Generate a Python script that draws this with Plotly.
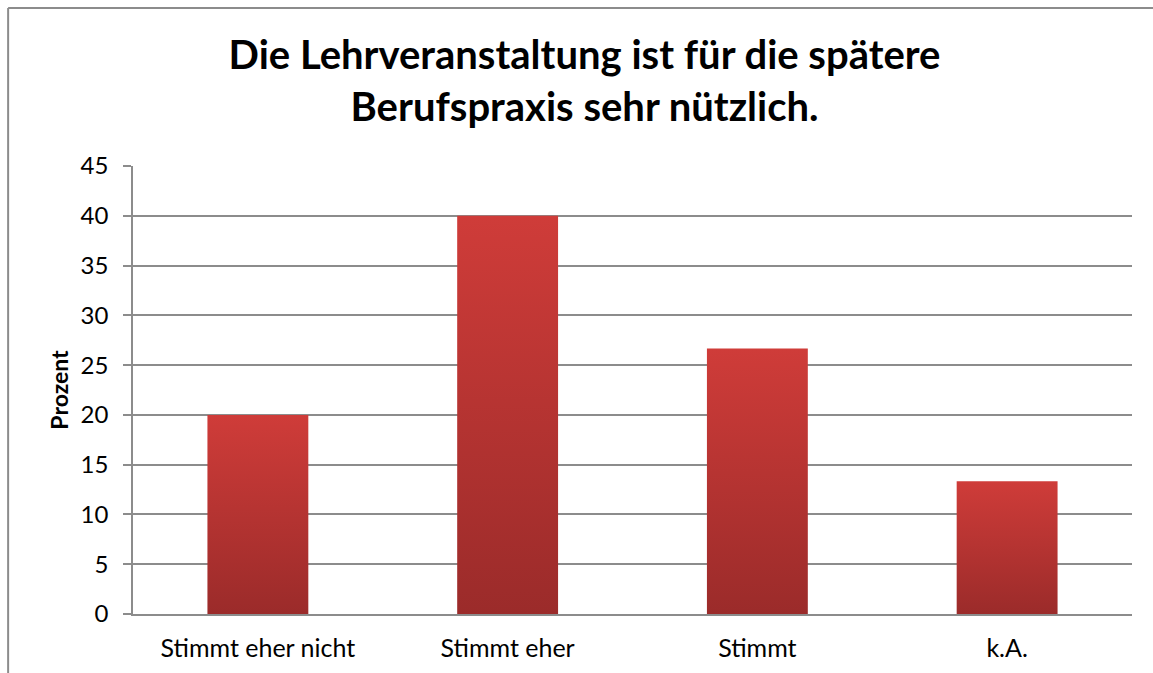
import plotly.graph_objects as go

categories = ["Stimmt eher nicht", "Stimmt eher", "Stimmt", "k.A."]
values = [20.0, 40.0, 26.67, 13.33]
y_ticks = [0, 5, 10, 15, 20, 25, 30, 35, 40, 45]

title_text = "Die Lehrveranstaltung ist für die spätere<br>Berufspraxis sehr nützlich."
y_title = "Prozent"

BAR_W = 0.404
FONT = "Lato, 'Open Sans', sans-serif"
GRID = "#8c8c8c"

fig = go.Figure()
for i, (cat, v) in enumerate(zip(categories, values)):
    fig.add_trace(go.Scatter(
        x=[i - BAR_W / 2, i + BAR_W / 2, i + BAR_W / 2, i - BAR_W / 2, i - BAR_W / 2],
        y=[0, 0, v, v, 0],
        mode="lines",
        line=dict(width=0),
        fill="toself",
        fillgradient=dict(type="vertical",
                          colorscale=[[0, "#9b2b2a"], [1, "#cf3c39"]]),
        name=cat,
        hoverinfo="text",
        text=f"{cat}: {v}",
        showlegend=False,
    ))

fig.update_layout(
    width=1153, height=673,
    margin=dict(l=133, r=21, t=166, b=59),
    paper_bgcolor="white", plot_bgcolor="white",
    font=dict(family=FONT, color="black", size=24),
    title=dict(text=title_text, x=0.452, xanchor="center", xref="paper",
               y=1 - 69 / 673, yanchor="middle", yref="container",
               font=dict(family=FONT, size=40, color="black", weight="bold")),
    xaxis=dict(range=[-0.5, 3.5], tickmode="array", tickvals=list(range(len(categories))),
               ticktext=categories, showgrid=False, zeroline=False,
               showline=True, linecolor=GRID, linewidth=1.5, ticks="",
               ticklabelstandoff=11, tickfont=dict(size=25), fixedrange=True),
    yaxis=dict(range=[0, 45], tickmode="array", tickvals=y_ticks,
               showgrid=True, gridcolor=GRID, gridwidth=1.5, zeroline=False,
               showline=True, linecolor=GRID, linewidth=1.5,
               ticks="outside", ticklen=8, tickcolor=GRID, tickwidth=1.5,
               ticklabelstandoff=10, tickfont=dict(size=24),
               title=dict(text=y_title, font=dict(size=23, weight="bold"), standoff=6),
               fixedrange=True),
    shapes=[
        dict(type="line", xref="paper", yref="paper",
             x0=-0.125, x1=1.1, y0=(614 - 8) / 448, y1=(614 - 8) / 448,
             line=dict(color="#8c8c8c", width=2)),
        dict(type="line", xref="paper", yref="paper",
             x0=-0.125, x1=-0.125, y0=(614 - 8) / 448, y1=-0.3,
             line=dict(color="#8c8c8c", width=2)),
    ],
)

fig.write_html("out.html", config={"displayModeBar": False},
               post_script="document.body.style.margin='0';")
